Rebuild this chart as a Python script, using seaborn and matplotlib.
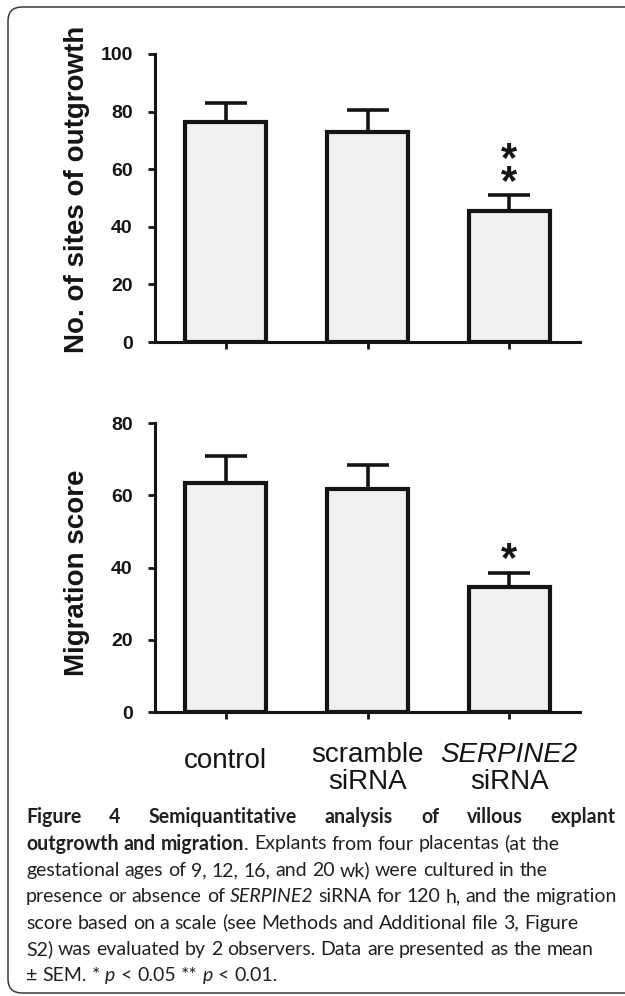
import matplotlib
matplotlib.use('Agg')
import matplotlib.pyplot as plt
from matplotlib.patches import FancyBboxPatch
from matplotlib.transforms import IdentityTransform, blended_transform_factory
import seaborn as sns
import pandas as pd

# data
groups = ['control', 'scramble siRNA', 'SERPINE2 siRNA']
outgrowth_mean = [76.4, 72.9, 45.5]
outgrowth_sem = [6.6, 7.7, 5.5]
migration_mean = [63.4, 61.7, 34.6]
migration_sem = [7.5, 6.7, 3.9]
outgrowth_ticks = [0, 20, 40, 60, 80, 100]
migration_ticks = [0, 20, 40, 60, 80]
outgrowth_stars = '*\n*'   # ** above the SERPINE2 bar
outgrowth_star_y = 58.0
migration_stars = '*'
migration_star_y = 44.3

caption = [
    [("Figure 4 Semiquantitative analysis of villous explant", 'b')],
    [("outgrowth and migration", 'b'), (". Explants from four placentas (at the", 'n')],
    [("gestational ages of 9, 12, 16, and 20 wk) were cultured in the", 'n')],
    [("presence or absence of ", 'n'), ("SERPINE2", 'i'), (" siRNA for 120 h, and the migration", 'n')],
    [("score based on a scale (see Methods and Additional file 3, Figure", 'n')],
    [("S2) was evaluated by 2 observers. Data are presented as the mean", 'n')],
    [("\u00b1 SEM. * ", 'n'), ("p", 'i'), (" < 0.05 ** ", 'n'), ("p", 'i'), (" < 0.01.", 'n')],
]

W, H = 625, 996
INK = '#141414'

sns.set_style('ticks')
plt.rcParams['font.family'] = ['Liberation Sans', 'DejaVu Sans']


def fx(px):
    return px / W


def fy(py):
    return 1 - py / H


fig = plt.figure(figsize=(W / 100, H / 100), dpi=100)
ax1 = fig.add_axes([fx(155), fy(342), (580 - 155) / W, (342 - 54) / H])
ax2 = fig.add_axes([fx(155), fy(712), (580 - 155) / W, (712 - 423) / H])


def panel(ax, means, sems, ticks, stars, star_y):
    df = pd.DataFrame({'group': groups, 'value': means})
    sns.barplot(data=df, x='group', y='value', color='#f0f0f0', saturation=1,
                edgecolor=INK, linewidth=3, width=0.57, errorbar=None, ax=ax, zorder=2)
    ax.errorbar(range(len(groups)), means, yerr=[[0] * len(sems), sems], fmt='none',
                ecolor=INK, elinewidth=2.6, capsize=15, capthick=2.6, zorder=1, clip_on=False)
    ax.set_xlim(-0.5, 2.5)
    ax.set_ylim(0, ticks[-1])
    ax.set_yticks(ticks)
    ax.set_xticks(range(len(groups)))
    ax.set_xticklabels([])
    ax.set_xlabel('')
    ax.set_ylabel('')
    sns.despine(ax=ax)
    for s in ['left', 'bottom']:
        ax.spines[s].set_linewidth(2.2)
        ax.spines[s].set_color(INK)
    ax.tick_params(axis='y', length=5, width=2, color=INK, labelsize=14, pad=11, labelcolor=INK)
    ax.tick_params(axis='x', length=5, width=2, color=INK)
    for lbl in ax.get_yticklabels():
        lbl.set_fontweight('bold')
    ax.annotate(stars, xy=(2, star_y), xytext=(0, -14), textcoords='offset points',
                ha='center', va='baseline', fontsize=30, fontweight='bold', linespacing=0.46,
                color=INK, annotation_clip=False)


panel(ax1, outgrowth_mean, outgrowth_sem, outgrowth_ticks, outgrowth_stars, outgrowth_star_y)
panel(ax2, migration_mean, migration_sem, migration_ticks, migration_stars, migration_star_y)

fig.text(fx(77), fy(189), 'No. of sites of outgrowth', rotation=90, ha='center', va='center',
         fontsize=20, fontweight='bold', color=INK)
fig.text(fx(77), fy(573), 'Migration score', rotation=90, ha='center', va='center',
         fontsize=20, fontweight='bold', color=INK)

# category labels under the lower panel
trans = blended_transform_factory(ax2.transData, fig.transFigure)
for i, g in enumerate(groups):
    parts = g.split(' ')
    if len(parts) == 1:
        ax2.text(i, fy(768), parts[0], transform=trans, ha='center', va='baseline',
                 fontsize=20, color=INK)
    else:
        ax2.text(i, fy(762), parts[0], transform=trans, ha='center', va='baseline',
                 fontsize=20, color=INK, fontstyle='italic' if parts[0].isupper() else 'normal')
        ax2.text(i, fy(789), parts[1], transform=trans, ha='center', va='baseline',
                 fontsize=20, color=INK)

# caption, placed word by word
renderer = fig.canvas.get_renderer()
STY = {'n': {}, 'b': {'fontweight': 'bold'}, 'i': {'fontstyle': 'italic'}}
CAP_FONT = ['Lato', 'DejaVu Sans']


def text_w(s, size, st):
    t = fig.text(0, 0, s, fontsize=size, family=CAP_FONT, **STY[st])
    w = t.get_window_extent(renderer).width
    t.remove()
    return w


def split_words(runs):
    words = [[]]
    for txt, st in runs:
        for i, p in enumerate(txt.split(' ')):
            if i > 0:
                words.append([])
            if p:
                words[-1].append((p, st))
    return [w for w in words if w]


def line_width(runs, size):
    words = split_words(runs)
    sp = text_w('n n', size, 'n') - text_w('nn', size, 'n')
    return sum(text_w(p, size, st) for w in words for p, st in w) + sp * (len(words) - 1)


cap_size = 10 * 592 / line_width(caption[3], 10)


def caption_line(runs, base_y, justify=False, x0=26, x1=616):
    words = split_words(runs)
    widths = [[text_w(p, cap_size, st) for p, st in w] for w in words]
    total = sum(sum(w) for w in widths)
    if justify:
        gap = (x1 - x0 - total) / (len(words) - 1)
    else:
        gap = text_w('n n', cap_size, 'n') - text_w('nn', cap_size, 'n')
    x = x0
    for w, ws in zip(words, widths):
        for (p, st), pw in zip(w, ws):
            fig.text(fx(x), fy(base_y), p, fontsize=cap_size, family=CAP_FONT,
                     ha='left', va='baseline', color='#231f20', **STY[st])
            x += pw
        x += gap


baselines = [823, 849.5, 876, 902, 928.5, 955, 981]
for k, (runs, b) in enumerate(zip(caption, baselines)):
    caption_line(runs, b, justify=(k == 0))

# rounded frame, runs off the right edge like the original
frame = FancyBboxPatch((8, 3), 700, 986, boxstyle='round,pad=0,rounding_size=14',
                       transform=IdentityTransform(), fill=False, edgecolor='#3a3a3a', linewidth=1.1)
fig.patches.append(frame)

fig.savefig('out.png', dpi=100)
